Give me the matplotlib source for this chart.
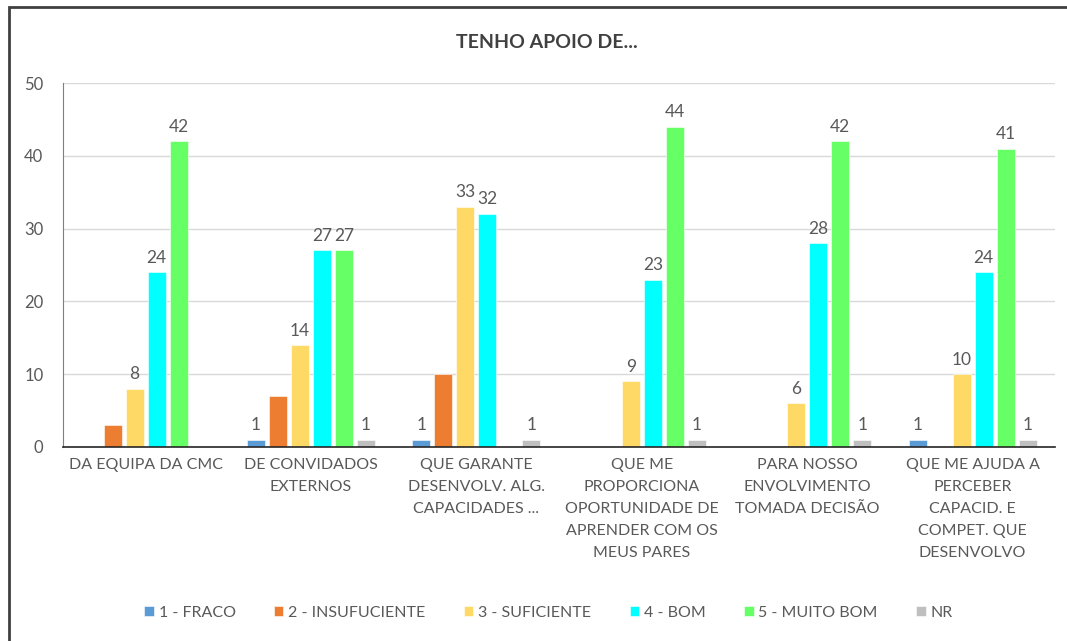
import numpy as np
import matplotlib.pyplot as plt
from matplotlib.patches import Rectangle

plt.rcParams['font.family'] = ['Lato', 'DejaVu Sans']

categories = ['DA EQUIPA DA CMC',
              'DE CONVIDADOS\nEXTERNOS',
              'QUE GARANTE\nDESENVOLV. ALG.\nCAPACIDADES ...',
              'QUE ME\nPROPORCIONA\nOPORTUNIDADE DE\nAPRENDER COM OS\nMEUS PARES',
              'PARA NOSSO\nENVOLVIMENTO\nTOMADA DECISÃO',
              'QUE ME AJUDA A\nPERCEBER\nCAPACID. E\nCOMPET. QUE\nDESENVOLVO']
series_names = ['1 - FRACO', '2 - INSUFUCIENTE', '3 - SUFICIENTE', '4 - BOM', '5 - MUITO BOM', 'NR']
fraco = [0, 1, 1, 0, 0, 1]
insuficiente = [3, 7, 10, 0, 0, 0]
suficiente = [8, 14, 33, 9, 6, 10]
bom = [24, 27, 32, 23, 28, 24]
muito_bom = [42, 27, 0, 44, 42, 41]
nr = [0, 1, 1, 1, 1, 1]
colors = ['#5B9BD5', '#ED7D31', '#FFD966', '#00FFFF', '#66FF66', '#BFBFBF']
show_labels = [True, False, True, True, True, True]

text_col = '#595959'

fig = plt.figure(figsize=(10.67, 6.41), dpi=100)
fig.patches.append(Rectangle((0.008, -0.01), 1.0, 0.999, transform=fig.transFigure,
                             fill=False, edgecolor='#404040', linewidth=2))
ax = fig.add_axes([0.059, 0.3027, 0.930, 0.5678])

data = [fraco, insuficiente, suficiente, bom, muito_bom, nr]
x = np.arange(len(categories))
pitch = 0.133
width = 0.109
for i, vals in enumerate(data):
	pos = x + (i - 2.5) * pitch
	bars = ax.bar(pos, vals, width, color=colors[i], label=series_names[i],
	              edgecolor='white', linewidth=0.4, zorder=2)
	if show_labels[i]:
		for b, v in zip(bars, vals):
			if v > 0:
				ax.text(b.get_x() + b.get_width() / 2, v + 0.9, str(v),
				        ha='center', va='bottom', fontsize=12.5, color=text_col)

ax.set_xlim(-0.5, len(categories) - 0.5)
ax.set_ylim(0, 50)
ax.set_yticks(range(0, 51, 10))
ax.yaxis.grid(True, color='#D9D9D9', linewidth=1, zorder=0)
ax.set_axisbelow(True)
ax.tick_params(length=0, labelsize=12, labelcolor=text_col)
ax.tick_params(axis='y', pad=14)
ax.set_xticks(x)
ax.set_xticklabels(categories, fontsize=11.5, color=text_col, linespacing=1.72, va='top')
ax.tick_params(axis='x', pad=8)
for s in ['top', 'right']:
	ax.spines[s].set_visible(False)
ax.spines['left'].set_color('#7F7F7F')
ax.spines['bottom'].set_color('#262626')
ax.spines['bottom'].set_linewidth(1.2)

fig.text(0.513, 0.934, 'TENHO APOIO DE...', ha='center', va='center',
         fontsize=14, fontweight='bold', color='#404040')

fig.legend(loc='center', bbox_to_anchor=(0.514, 0.044), ncol=6, frameon=False,
           fontsize=11.5, labelcolor=text_col, handlelength=0.6, handleheight=0.6,
           handletextpad=0.3, columnspacing=2.4)

fig.savefig('out.png', dpi=100)
